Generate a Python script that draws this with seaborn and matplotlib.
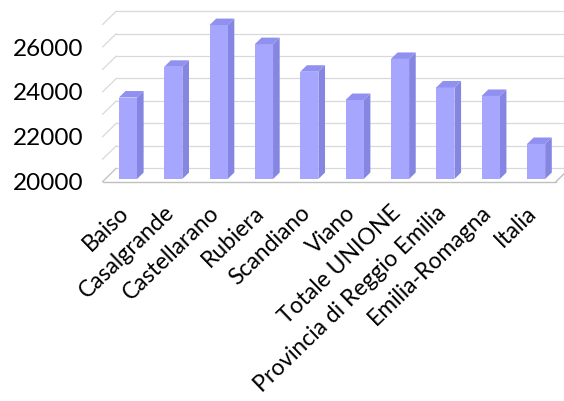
import numpy as np
import pandas as pd
import seaborn as sns
import matplotlib
matplotlib.use("Agg")
import matplotlib.pyplot as plt
from matplotlib.patches import Polygon
from matplotlib.transforms import offset_copy

categories = ["Baiso", "Casalgrande", "Castellarano", "Rubiera", "Scandiano", "Viano",
              "Totale UNIONE", "Provincia di Reggio Emilia", "Emilia-Romagna", "Italia"]
values = [23630, 25000, 26860, 26010, 24780, 23520, 25350, 24080, 23700, 21560]
y_ticks = [20000, 22000, 24000, 26000]
y_min, y_max, grid_step = 20000, 27000, 1000

FRONT = "#a6a6ff"
TOP = "#9090f0"
SIDE = "#8585e2"
GRID = "#d9d9d9"
FLOOR = "#bfbfbf"

sns.set_theme(style="white")
plt.rcParams["font.family"] = ["Lato", "DejaVu Sans"]

W, H, DPI = 564, 401, 100
fig = plt.figure(figsize=(W / DPI, H / DPI), dpi=DPI)
left_px, right_px, bottom_px, top_px = 102.5, 556.0, 181.7, 24.6
ax = fig.add_axes([left_px / W, (H - bottom_px) / H,
                   (right_px - left_px) / W, (bottom_px - top_px) / H])

df = pd.DataFrame({"cat": categories, "val": values})
sns.barplot(data=df, x="cat", y="val", color=FRONT, saturation=1, width=0.4,
            edgecolor="none", ax=ax, zorder=3)
ax.set_xlim(-0.5, len(categories) - 0.5)
ax.set_ylim(y_min, y_max)

# pixel -> data conversions
px_per_x = (right_px - left_px) / len(categories)
px_per_y = (bottom_px - top_px) / (y_max - y_min)
Dx, Dy = 13.8, 13.5          # depth of the 3D box in pixels
shift = 0.2                   # bars start at 20% depth
depth = 0.48                  # bar depth fraction

back = offset_copy(ax.transData, fig=fig, x=Dx, y=Dy, units="dots")
x0, x1 = ax.get_xlim()
levels = np.arange(y_min, y_max + 1, grid_step)
for v in levels:
    ax.plot([x0, x1], [v, v], color=GRID, lw=0.9, transform=back, clip_on=False, zorder=1)
    ax.plot([x0, x0 + Dx / px_per_x], [v, v + Dy / px_per_y], color=GRID if v > y_min else FLOOR,
            lw=0.9, clip_on=False, zorder=1)
ax.plot([x0, x1], [y_min, y_min], color=FLOOR, lw=1.0, clip_on=False, zorder=2)
ax.plot([x1, x1 + Dx / px_per_x], [y_min, y_min + Dy / px_per_y], color=FLOOR, lw=1.0,
        clip_on=False, zorder=2)

sx, sy = shift * Dx, shift * Dy
ddx, ddy = depth * Dx / px_per_x, depth * Dy / px_per_y
bar_tr = offset_copy(ax.transData, fig=fig, x=sx, y=sy, units="dots")
for p in ax.patches:
    top = p.get_y() + p.get_height()
    p.set_y(y_min)
    p.set_height(top - y_min)
    p.set_transform(bar_tr)
    p.set_clip_on(False)
    xl = p.get_x()
    xr = xl + p.get_width()
    side = Polygon([(xr, y_min), (xr, top), (xr + ddx, top + ddy), (xr + ddx, y_min + ddy)],
                   closed=True, facecolor=SIDE, edgecolor="none", transform=bar_tr,
                   clip_on=False, zorder=2.9)
    topf = Polygon([(xl, top), (xr, top), (xr + ddx, top + ddy), (xl + ddx, top + ddy)],
                   closed=True, facecolor=TOP, edgecolor="none", transform=bar_tr,
                   clip_on=False, zorder=3.1)
    ax.add_patch(side)
    ax.add_patch(topf)

ax.set_yticks(y_ticks)
ax.set_yticklabels([str(t) for t in y_ticks], fontsize=17.5, color="black")
ax.tick_params(axis="y", length=0, pad=14)
ax.tick_params(axis="x", length=0, pad=20)
ax.set_xticks(range(len(categories)))
ax.set_xticklabels(categories, rotation=44, ha="right", va="center", rotation_mode="anchor",
                   fontsize=16.5, color="black")
ax.set_xlabel("")
ax.set_ylabel("")
for s in ax.spines.values():
    s.set_visible(False)
ax.grid(False)

fig.savefig("out.png", dpi=DPI)
